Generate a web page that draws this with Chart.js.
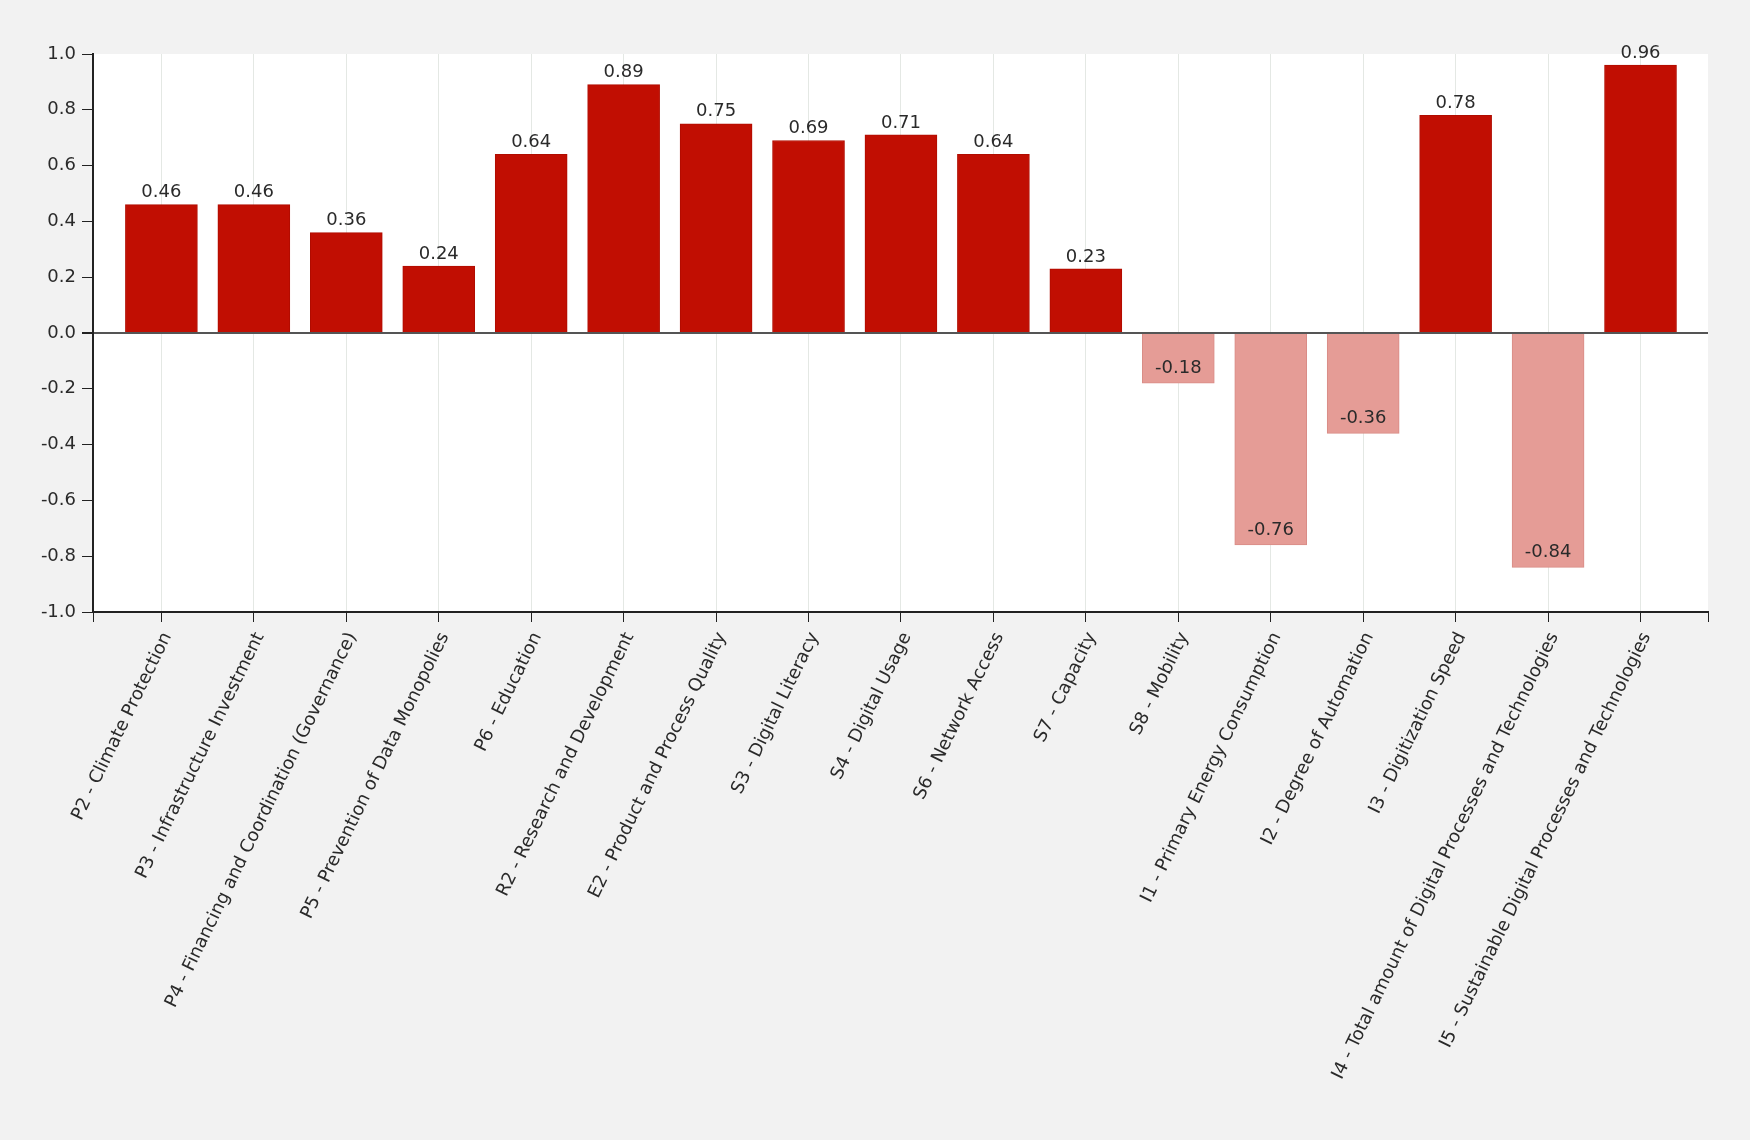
<!DOCTYPE html>
<html>
<head>
<meta charset="utf-8">
<script src="https://cdn.jsdelivr.net/npm/chart.js@4.4.1/dist/chart.umd.min.js"></script>
<style>
  html, body { margin: 0; padding: 0; background: #f2f2f2; }
  canvas { display: block; }
</style>
</head>
<body>
<canvas id="grafico" width="1750" height="1140"></canvas>
<script>
// categorias e valores
const categorias = [
  "P2 - Climate Protection",
  "P3 - Infrastructure Investment",
  "P4 - Financing and Coordination (Governance)",
  "P5 - Prevention of Data Monopolies",
  "P6 - Education",
  "R2 - Research and Development",
  "E2 - Product and Process Quality",
  "S3 - Digital Literacy",
  "S4 - Digital Usage",
  "S6 - Network Access",
  "S7 - Capacity",
  "S8 - Mobility",
  "I1 - Primary Energy Consumption",
  "I2 - Degree of Automation",
  "I3 - Digitization Speed",
  "I4 - Total amount of Digital Processes and Technologies",
  "I5 - Sustainable Digital Processes and Technologies"
];
const valores = [0.46, 0.46, 0.36, 0.24, 0.64, 0.89, 0.75, 0.69, 0.71, 0.64, 0.23, -0.18, -0.76, -0.36, 0.78, -0.84, 0.96];
const yMin = -1.0;
const yMax = 1.0;
const yPasso = 0.2;

const corPositiva = "#c10e02";
const corNegativa = "#e59c96";

Chart.defaults.font.family = "'DejaVu Sans', sans-serif";
Chart.defaults.font.size = 18;
Chart.defaults.color = "#2a2a2a";

// fundo branco so na area do grafico
const fundoArea = {
  id: "fundoArea",
  beforeDraw(chart) {
    const { ctx, chartArea } = chart;
    ctx.save();
    ctx.fillStyle = "#ffffff";
    ctx.fillRect(chartArea.left, chartArea.top, chartArea.right - chartArea.left, chartArea.bottom - chartArea.top);
    ctx.restore();
  }
};

// rotulos de valor em cima / dentro das barras
const rotulos = {
  id: "rotulos",
  afterDatasetsDraw(chart) {
    const ctx = chart.ctx;
    const meta = chart.getDatasetMeta(0);
    ctx.save();
    ctx.font = "18px 'DejaVu Sans', sans-serif";
    ctx.fillStyle = "#2a2a2a";
    ctx.textAlign = "center";
    ctx.textBaseline = "middle";
    meta.data.forEach((barra, i) => {
      const v = valores[i];
      const y = v >= 0 ? barra.y - 12 : barra.y - 15;
      ctx.fillText(v.toFixed(2), barra.x, y);
    });
    ctx.restore();
  }
};

const xMin = -0.74;
const xMax = 16.73;

new Chart(document.getElementById("grafico"), {
  type: "bar",
  data: {
    datasets: [{
      data: valores.map((v, i) => ({ x: i, y: v })),
      backgroundColor: (c) => (valores[c.dataIndex] >= 0 ? corPositiva : corNegativa),
      borderColor: (c) => (valores[c.dataIndex] >= 0 ? "#b00c00" : "#d98c86"),
      borderWidth: 1,
      barThickness: 72
    }]
  },
  options: {
    responsive: false,
    animation: false,
    layout: { padding: { left: 0, top: 54, right: 42, bottom: 0 } },
    plugins: {
      legend: { display: false },
      tooltip: { enabled: false }
    },
    scales: {
      x: {
        type: "linear",
        min: xMin,
        max: xMax,
        offset: false,
        afterBuildTicks: (scale) => {
          const t = [{ value: xMin }];
          categorias.forEach((c, i) => t.push({ value: i }));
          t.push({ value: xMax });
          scale.ticks = t;
        },
        afterFit: (scale) => { scale.height = 1140 - 612; },
        ticks: {
          autoSkip: false,
          minRotation: 64,
          maxRotation: 64,
          padding: 7,
          labelOffset: 6,
          color: "#2a2a2a",
          callback: (v) => (Number.isInteger(v) && categorias[v] ? categorias[v] : "")
        },
        grid: {
          offset: false,
          color: (c) => (c.tick && Number.isInteger(c.tick.value) ? "#e4e8e4" : "transparent"),
          tickColor: "#222",
          tickLength: 10,
          lineWidth: 1
        },
        border: { display: true, color: "#222", width: 2 }
      },
      y: {
        min: yMin,
        max: yMax,
        afterFit: (scale) => { scale.width = 93; },
        ticks: {
          stepSize: yPasso,
          padding: 6,
          color: "#2a2a2a",
          callback: (v) => v.toFixed(1)
        },
        grid: {
          color: (c) => (c.tick && Math.abs(c.tick.value) < 1e-9 ? "#555" : "transparent"),
          lineWidth: (c) => (c.tick && Math.abs(c.tick.value) < 1e-9 ? 2 : 1),
          tickColor: "#222",
          tickLength: 11
        },
        border: { display: true, color: "#222", width: 2 }
      }
    }
  },
  plugins: [fundoArea, rotulos]
});
</script>
</body>
</html>
